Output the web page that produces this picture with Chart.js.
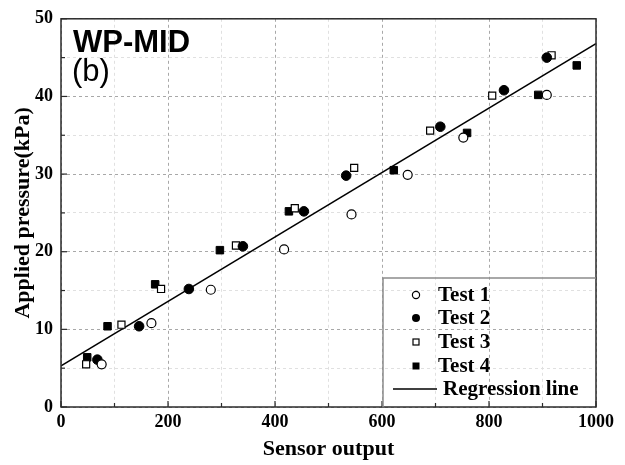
<!DOCTYPE html>
<html>
<head>
<meta charset="utf-8">
<script src="https://cdn.jsdelivr.net/npm/chart.js@4.4.1/dist/chart.umd.min.js"></script>
<style>
  html, body { margin: 0; padding: 0; background: #fff; }
  #wrap { position: relative; width: 625px; height: 465px; }
</style>
</head>
<body>
<div id="wrap"><canvas id="c"></canvas></div>
<script>
// WP-MID (b) - applied pressure vs sensor output

// Test 1 (open circles)
const test1X = [76, 169, 280, 417, 543, 648, 752, 908];
const test1Y = [5.5, 10.8, 15.1, 20.3, 24.8, 29.9, 34.7, 40.2];
// Test 2 (filled circles)
const test2X = [68, 146, 239, 340, 454, 533, 709, 828, 908];
const test2Y = [6.1, 10.4, 15.2, 20.7, 25.2, 29.8, 36.1, 40.8, 45.0];
// Test 3 (open squares)
const test3X = [47, 113, 187, 327, 437, 548, 690, 806, 917];
const test3Y = [5.5, 10.6, 15.2, 20.8, 25.6, 30.8, 35.6, 40.1, 45.3];
// Test 4 (filled squares)
const test4X = [49, 87, 176, 297, 426, 622, 759, 892, 964];
const test4Y = [6.4, 10.4, 15.8, 20.2, 25.2, 30.5, 35.3, 40.2, 44.0];
// Regression line end points
const regX = [0, 1000];
const regY = [5.3, 46.8];

const xTicksMajor = 200;
const yTicksMajor = 10;
const legendLabels = ['Test 1', 'Test 2', 'Test 3', 'Test 4', 'Regression line'];

function pairs(xs, ys) {
  return xs.map(function(x, i) { return { x: x, y: ys[i] }; });
}

const serif = '"Liberation Serif", "Times New Roman", serif';
const sans = '"Liberation Sans", Arial, sans-serif';

// frame, inward ticks, panel label and legend
const framePlugin = {
  id: 'frame',
  afterDraw: function(chart) {
    const ctx = chart.ctx;
    const a = chart.chartArea;
    const xs = chart.scales.x, ys = chart.scales.y;
    ctx.save();
    ctx.strokeStyle = '#2b2b2b';
    ctx.lineWidth = 1.5;
    ctx.strokeRect(a.left, a.top, a.right - a.left, a.bottom - a.top);

    ctx.lineWidth = 1.2;
    ys.ticks.forEach(function(t) {
      const py = ys.getPixelForValue(t.value);
      const len = t.value % yTicksMajor === 0 ? 6 : 4;
      ctx.beginPath();
      ctx.moveTo(a.left, py);
      ctx.lineTo(a.left + len, py);
      ctx.stroke();
    });
    xs.ticks.forEach(function(t) {
      const px = xs.getPixelForValue(t.value);
      const len = t.value % xTicksMajor === 0 ? 6 : 4;
      ctx.beginPath();
      ctx.moveTo(px, a.bottom);
      ctx.lineTo(px, a.bottom - len);
      ctx.stroke();
    });

    // panel label
    ctx.fillStyle = '#000';
    ctx.textAlign = 'left';
    ctx.textBaseline = 'alphabetic';
    ctx.font = 'bold 31px ' + sans;
    ctx.fillText('WP-MID', a.left + 12, a.top + 33);
    ctx.font = '31px ' + sans;
    ctx.fillText('(b)', a.left + 11, a.top + 62);

    // legend
    const bx = 383, by = 278;
    ctx.strokeStyle = '#8c8c8c';
    ctx.lineWidth = 1.5;
    ctx.beginPath();
    ctx.moveTo(a.right, by);
    ctx.lineTo(bx, by);
    ctx.lineTo(bx, a.bottom);
    ctx.stroke();

    const rowsY = [295, 318, 342, 366, 389];
    const mx = 416;
    ctx.lineWidth = 1.2;
    ctx.strokeStyle = '#000';
    ctx.fillStyle = '#000';
    // Test 1 open circle
    ctx.beginPath(); ctx.arc(mx, rowsY[0], 3.6, 0, Math.PI * 2);
    ctx.fillStyle = '#fff'; ctx.fill(); ctx.stroke();
    // Test 2 filled circle
    ctx.beginPath(); ctx.arc(mx, rowsY[1], 4, 0, Math.PI * 2);
    ctx.fillStyle = '#000'; ctx.fill();
    // Test 3 open square
    ctx.fillStyle = '#fff';
    ctx.fillRect(mx - 3, rowsY[2] - 3, 6, 6);
    ctx.strokeRect(mx - 3, rowsY[2] - 3, 6, 6);
    // Test 4 filled square
    ctx.fillStyle = '#000';
    ctx.fillRect(mx - 3.5, rowsY[3] - 3.5, 7, 7);
    // Regression line
    ctx.lineWidth = 1.5;
    ctx.beginPath(); ctx.moveTo(393, rowsY[4]); ctx.lineTo(437, rowsY[4]); ctx.stroke();

    ctx.font = 'bold 21px ' + serif;
    ctx.textBaseline = 'middle';
    ctx.fillStyle = '#000';
    legendLabels.forEach(function(lbl, i) {
      ctx.fillText(lbl, i < 4 ? 438 : 443, rowsY[i] + 1);
    });
    ctx.restore();
  }
};

function gridColor(major) {
  return function(c) {
    if (!c.tick) return '#ddd';
    return c.tick.value % major === 0 ? '#a8a8a8' : '#e0e0e0';
  };
}

new Chart(document.getElementById('c'), {
  type: 'scatter',
  data: {
    datasets: [
      { label: 'Test 1', data: pairs(test1X, test1Y), pointStyle: 'circle', pointRadius: 4.5,
        backgroundColor: '#fff', borderColor: '#000', borderWidth: 1.2 },
      { label: 'Test 2', data: pairs(test2X, test2Y), pointStyle: 'circle', pointRadius: 4.8,
        backgroundColor: '#000', borderColor: '#000', borderWidth: 1 },
      { label: 'Test 3', data: pairs(test3X, test3Y), pointStyle: 'rect', pointRadius: 5,
        backgroundColor: '#fff', borderColor: '#000', borderWidth: 1.2 },
      { label: 'Test 4', data: pairs(test4X, test4Y), pointStyle: 'rect', pointRadius: 5.3,
        backgroundColor: '#000', borderColor: '#000', borderWidth: 1 },
      { label: 'Regression line', data: pairs(regX, regY), showLine: true, pointRadius: 0,
        borderColor: '#000', borderWidth: 1.6, fill: false }
    ]
  },
  options: {
    responsive: true,
    maintainAspectRatio: false,
    animation: false,
    layout: { padding: { top: 15, right: 29, left: 0, bottom: 0 } },
    plugins: { legend: { display: false }, tooltip: { enabled: false } },
    scales: {
      x: {
        type: 'linear', min: 0, max: 1000,
        afterFit: function(s) { s.height = 58; },
        ticks: {
          stepSize: 100, autoSkip: false, maxRotation: 0, padding: 5, color: '#000',
          font: { family: serif, weight: 'bold', size: 18 },
          callback: function(v) { return v % xTicksMajor === 0 ? v : ''; }
        },
        grid: { color: gridColor(xTicksMajor), drawTicks: false, lineWidth: 1 },
        border: { display: false, dash: [3, 3] },
        title: { display: true, text: 'Sensor output', color: '#000',
          font: { family: serif, weight: 'bold', size: 22 }, padding: { top: 0, bottom: 2 } }
      },
      y: {
        type: 'linear', min: 0, max: 50,
        afterFit: function(s) { s.width = 61; },
        ticks: {
          stepSize: 5, autoSkip: false, padding: 8, color: '#000',
          font: { family: serif, weight: 'bold', size: 18 },
          callback: function(v) { return v % yTicksMajor === 0 ? v : ''; }
        },
        grid: { color: gridColor(yTicksMajor), drawTicks: false, lineWidth: 1 },
        border: { display: false, dash: [3, 3] },
        title: { display: true, text: 'Applied pressure(kPa)', color: '#000',
          font: { family: serif, weight: 'bold', size: 22 }, padding: { top: 10, bottom: 0 } }
      }
    }
  },
  plugins: [framePlugin]
});
</script>
</body>
</html>
